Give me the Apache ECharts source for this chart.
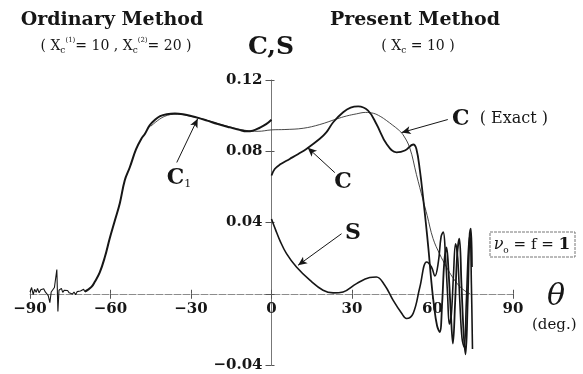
<!DOCTYPE html>
<html>
<head>
<meta charset="utf-8">
<script src="https://cdn.jsdelivr.net/npm/echarts@6/dist/echarts.min.js"></script>
<style>
  html, body { margin: 0; padding: 0; background: #ffffff; }
  #chart { width: 583px; height: 374px; }
</style>
</head>
<body>
<div id="chart"></div>
<script>
// ---- angle ticks (deg.) and value ticks ----
const thetaTicks = [-90, -60, -30, 0, 30, 60, 90];
const valueTicks = [-0.04, 0, 0.04, 0.08, 0.12];

// ---- ordinary method, C1: noisy foot near grazing incidence ----
const c1NoiseTheta = [-90, -89.4, -88.8, -88.3, -87.7, -87.2, -86.6, -86.0, -85.5, -84.9, -84.3, -83.8,
  -83.2, -82.6, -82.1, -81.5, -80.9, -80.4, -80.0, -79.6, -79.2, -78.8, -78.3, -77.8, -77.2, -76.6,
  -76.0, -75.4, -74.8, -74.2, -73.6, -73.0, -72.4, -71.8, -71.2, -70.6, -70.0, -69.6];
const c1NoiseValue = [0.0010, 0.0035, -0.0005, 0.0025, 0.0008, 0.0030, 0.0005, 0.0022, 0.0012, 0.0028,
  0.0010, 0.0015, -0.0010, -0.0050, 0.0010, 0.0020, 0.0035, 0.0025, 0.0136, -0.0100, 0.0020, 0.0018,
  0.0030, 0.0008, 0.0020, 0.0010, 0.0018, 0.0005, 0.0012, -0.0002, 0.0010, -0.0005, 0.0012, 0.0002,
  0.0015, 0.0008, 0.0025, 0.0012];

// ---- ordinary method, C1: main lobe ----
const c1Theta = [-69.6, -68.5, -67, -65.9, -64, -62.1, -60.3, -58.4, -56.5, -54.7, -52.8, -50.5, -48.5,
  -47.2, -45.4, -43.5, -41.5, -39, -36, -33, -30, -27, -24, -20, -15.5, -12, -9.3, -7, -4.4, -2, 0];
const c1Value = [0.0012, 0.0022, 0.0040, 0.0066, 0.0120, 0.0206, 0.0310, 0.0410, 0.0510, 0.0636, 0.0710,
  0.0810, 0.0870, 0.0897, 0.0945, 0.0975, 0.0997, 0.1008, 0.1012, 0.1008, 0.0998, 0.0986, 0.0972, 0.0953,
  0.0934, 0.0920, 0.0912, 0.0915, 0.0932, 0.0952, 0.0977];

// ---- exact C ----
const exactTheta = [-45, -40, -35, -30, -25, -20, -15, -10, -5, 0, 5, 11.8, 18, 24.2, 28, 31.7, 35, 38,
  40.5, 42.9, 45, 47.2, 49, 51.5, 54, 56.5, 58, 60.2, 62.7, 65.2, 67.5, 70.2, 72.5, 74];
const exactValue = [0.0940, 0.0995, 0.1008, 0.0996, 0.0978, 0.0955, 0.0935, 0.0918, 0.0912, 0.0920,
  0.0922, 0.0929, 0.0950, 0.0981, 0.0998, 0.1010, 0.1018, 0.1013, 0.0996, 0.0972, 0.0948, 0.0922, 0.0893,
  0.0820, 0.0670, 0.0525, 0.0440, 0.0310, 0.0222, 0.0150, 0.0092, 0.0040, 0.0012, 0.0000];

// ---- present method, C ----
const cTheta = [0, 1.2, 3.1, 6.8, 10, 13, 18, 20.5, 23, 26.7, 29.5, 32.3, 36, 39.1, 42.9, 46.6, 49.7,
  52.8, 54, 55.3, 56.5, 57.5, 58.5, 59.5, 60.5, 61.7, 62.7, 63.6, 64.4, 65.2, 66.0, 66.8, 67.6, 68.4,
  69.2, 70.0, 70.8, 71.6, 72.3, 73.1, 73.8, 74.3, 74.7];
const cValue = [0.0664, 0.0700, 0.0725, 0.0757, 0.0785, 0.0813, 0.0870, 0.0907, 0.0963, 0.1019, 0.1045,
  0.1052, 0.1028, 0.0953, 0.0841, 0.0794, 0.0804, 0.0838, 0.0813, 0.0692, 0.0540, 0.0400, 0.0250, 0.0080,
  -0.0060, -0.0180, -0.0215, -0.0050, 0.0180, 0.0260, 0.0120, -0.0100, -0.0280, -0.0060, 0.0220, 0.0310,
  0.0050, -0.0220, -0.0340, -0.0050, 0.0320, 0.0365, 0.0150];

// ---- present method, S ----
const sTheta = [0, 1.5, 3.1, 5.6, 9.3, 14.3, 19.2, 23, 26.7, 31.7, 36.6, 39.1, 42.2, 45.3, 48.5, 50.3,
  52.8, 55.3, 57.8, 59.6, 60.9, 62.2, 63.2, 64.0, 64.8, 65.6, 66.3, 67.0, 67.8, 68.6, 69.4, 70.2, 71.0,
  71.8, 72.6, 73.4, 74.0, 74.5, 74.9];
const sValue = [0.0420, 0.0360, 0.0300, 0.0225, 0.0150, 0.0076, 0.0020, 0.0005, 0.0010, 0.0057, 0.0091,
  0.0094, 0.0048, -0.0036, -0.0110, -0.0139, -0.0110, 0.0038, 0.0178, 0.0150, 0.0100, 0.0180, 0.0320,
  0.0346, 0.0220, 0.0000, -0.0170, -0.0120, 0.0100, 0.0280, 0.0200, -0.0050, -0.0250, -0.0300, -0.0050,
  0.0250, 0.0330, 0.0050, -0.0310];

// ---- callout arrows: [tail, head] in (deg., value) ----
const arrowC1 = [[-35.3, 0.0737], [-27.5, 0.0983]];
const arrowC = [[23.6, 0.0680], [13.5, 0.0820]];
const arrowS = [[26.1, 0.0337], [9.9, 0.0160]];
const arrowExact = [[65.7, 0.0978], [48.5, 0.0905]];

const pairs = (xs, ys) => xs.map((x, i) => [x, ys[i]]);

const SERIF = '"DejaVu Serif", "Liberation Serif", serif';
const INK = '#161616';

const minusFmt = (v) => (v < 0 ? '\u2212' : '') + Math.abs(v);
const arrowLine = (seg) => [{ coord: seg[0] }, { coord: seg[1] }];

// plot box
const GRID = { left: 30, top: 80, width: 483, height: 285 };
const xMin = thetaTicks[0], xMax = thetaTicks[thetaTicks.length - 1];
const yMin = valueTicks[0], yMax = valueTicks[valueTicks.length - 1];
// the labelled axes cross at the origin: shift them in from the plot edges
const xAxisShift = -GRID.height * (0 - yMin) / (yMax - yMin);
const yAxisShift = -GRID.width * (0 - xMin) / (xMax - xMin);

const chart = echarts.init(document.getElementById('chart'), null, { renderer: 'canvas' });

const baseX = { type: 'value', min: xMin, max: xMax, interval: 30, splitLine: { show: false } };
const baseY = { type: 'value', min: yMin, max: yMax, interval: 0.04, splitLine: { show: false } };

chart.setOption({
  backgroundColor: '#ffffff',
  animation: false,
  grid: Object.assign({ containLabel: false, outerBoundsMode: 'none' }, GRID),
  xAxis: [
    Object.assign({}, baseX, {
      position: 'bottom', offset: xAxisShift,
      axisLine: { show: true, onZero: false, lineStyle: { color: '#8c8c8c', width: 1, type: [7, 2] } },
      axisTick: { show: true, length: 5, lineStyle: { color: '#555', width: 1 } },
      axisLabel: {
        formatter: minusFmt, fontFamily: SERIF, fontWeight: 'bold', fontSize: 15,
        color: INK, margin: 8
      }
    }),
    Object.assign({}, baseX, {
      position: 'top',
      axisLine: { show: false, onZero: true },
      axisTick: { show: true, length: 4, lineStyle: { color: '#555', width: 1 } },
      axisLabel: { show: false }
    })
  ],
  yAxis: [
    Object.assign({}, baseY, {
      position: 'left', offset: yAxisShift,
      axisLine: { show: true, onZero: false, lineStyle: { color: '#777', width: 1 } },
      axisTick: { show: true, length: 6, lineStyle: { color: '#555', width: 1 } },
      axisLabel: {
        formatter: (v) => (Math.abs(v) < 1e-9 ? '' : (v < 0 ? '\u2212' : '') + Math.abs(v).toFixed(2)),
        fontFamily: SERIF, fontWeight: 'bold', fontSize: 15, color: INK, margin: 9
      }
    }),
    Object.assign({}, baseY, {
      position: 'right',
      axisLine: { show: false, onZero: true },
      axisTick: { show: true, length: 3, lineStyle: { color: '#555', width: 1 } },
      axisLabel: { show: false }
    })
  ],
  series: [
    {
      name: 'C1 foot', type: 'line', data: pairs(c1NoiseTheta, c1NoiseValue),
      showSymbol: false, smooth: false, lineStyle: { color: INK, width: 1.1 }
    },
    {
      name: 'C (Exact)', type: 'line', data: pairs(exactTheta, exactValue),
      showSymbol: false, smooth: 0.4, lineStyle: { color: '#333', width: 0.9 },
      markLine: {
        silent: true, symbol: ['none', 'arrow'], symbolSize: [6, 9],
        lineStyle: { color: INK, width: 1, type: 'solid' }, label: { show: false },
        data: [arrowLine(arrowExact)]
      }
    },
    {
      name: 'C1', type: 'line', data: pairs(c1Theta, c1Value),
      showSymbol: false, smooth: 0.4, lineStyle: { color: INK, width: 2 },
      markLine: {
        silent: true, symbol: ['none', 'arrow'], symbolSize: [6, 9],
        lineStyle: { color: INK, width: 1, type: 'solid' }, label: { show: false },
        data: [arrowLine(arrowC1)]
      }
    },
    {
      name: 'C', type: 'line', data: pairs(cTheta, cValue),
      showSymbol: false, smooth: 0.4, lineStyle: { color: INK, width: 1.8 },
      markLine: {
        silent: true, symbol: ['none', 'arrow'], symbolSize: [6, 9],
        lineStyle: { color: INK, width: 1, type: 'solid' }, label: { show: false },
        data: [arrowLine(arrowC)]
      }
    },
    {
      name: 'S', type: 'line', data: pairs(sTheta, sValue),
      showSymbol: false, smooth: 0.4, lineStyle: { color: INK, width: 1.6 },
      markLine: {
        silent: true, symbol: ['none', 'arrow'], symbolSize: [6, 9],
        lineStyle: { color: INK, width: 1, type: 'solid' }, label: { show: false },
        data: [arrowLine(arrowS)]
      }
    }
  ],
  graphic: [
    { type: 'text', x: 112, y: 20, style: { text: 'Ordinary Method', font: 'bold 19px ' + SERIF, fill: INK, align: 'center', verticalAlign: 'middle' } },
    {
      type: 'text', x: 116, y: 46,
      style: {
        text: '{n|( X}{c|c}{u|(1)}{n|= 10 , X}{c|c}{u|(2)}{n|= 20 )}',
        align: 'center', verticalAlign: 'middle', fill: INK,
        rich: {
          n: { font: '14px ' + SERIF, fill: INK, lineHeight: 18, verticalAlign: 'middle' },
          c: { font: '9px ' + SERIF, fill: INK, lineHeight: 18, verticalAlign: 'bottom' },
          u: { font: '7px ' + SERIF, fill: INK, lineHeight: 18, verticalAlign: 'top' }
        }
      }
    },
    { type: 'text', x: 271, y: 47, style: { text: 'C,S', font: 'bold 25px ' + SERIF, fill: INK, align: 'center', verticalAlign: 'middle' } },
    { type: 'text', x: 415, y: 20, style: { text: 'Present Method', font: 'bold 19px ' + SERIF, fill: INK, align: 'center', verticalAlign: 'middle' } },
    {
      type: 'text', x: 418, y: 46,
      style: {
        text: '{n|( X}{c|c}{n| = 10 )}',
        align: 'center', verticalAlign: 'middle', fill: INK,
        rich: {
          n: { font: '14px ' + SERIF, fill: INK, lineHeight: 18, verticalAlign: 'middle' },
          c: { font: '9px ' + SERIF, fill: INK, lineHeight: 18, verticalAlign: 'bottom' }
        }
      }
    },
    // curve labels
    {
      type: 'text', x: 179, y: 178,
      style: {
        text: '{b|C}{s|1}', align: 'center', verticalAlign: 'middle', fill: INK,
        rich: {
          b: { font: 'bold 22px ' + SERIF, fill: INK, lineHeight: 24, verticalAlign: 'middle' },
          s: { font: '11px ' + SERIF, fill: INK, lineHeight: 24, verticalAlign: 'bottom' }
        }
      }
    },
    { type: 'text', x: 343, y: 182, style: { text: 'C', font: 'bold 22px ' + SERIF, fill: INK, align: 'center', verticalAlign: 'middle' } },
    { type: 'text', x: 353, y: 233, style: { text: 'S', font: 'bold 22px ' + SERIF, fill: INK, align: 'center', verticalAlign: 'middle' } },
    {
      type: 'text', x: 452, y: 119,
      style: {
        text: '{b|C}{n|  ( Exact )}', align: 'left', verticalAlign: 'middle', fill: INK,
        rich: {
          b: { font: 'bold 22px ' + SERIF, fill: INK, lineHeight: 24, verticalAlign: 'middle' },
          n: { font: '16px ' + SERIF, fill: INK, lineHeight: 24, verticalAlign: 'middle' }
        }
      }
    },
    // parameter box
    { type: 'rect', shape: { x: 490, y: 232, width: 85, height: 25 }, style: { fill: 'none', stroke: '#777', lineWidth: 1, lineDash: [3, 1] } },
    {
      type: 'text', x: 532, y: 245,
      style: {
        text: '{g|\u03bd}{o|o}{n| = f = }{b|1}', align: 'center', verticalAlign: 'middle', fill: INK,
        rich: {
          g: { font: 'italic 16px ' + SERIF, fill: INK, lineHeight: 20, verticalAlign: 'middle' },
          o: { font: '9px ' + SERIF, fill: INK, lineHeight: 20, verticalAlign: 'bottom' },
          n: { font: '15px ' + SERIF, fill: INK, lineHeight: 20, verticalAlign: 'middle' },
          b: { font: 'bold 17px ' + SERIF, fill: INK, lineHeight: 20, verticalAlign: 'middle' }
        }
      }
    },
    // axis title
    { type: 'text', x: 556, y: 297, style: { text: '\u03b8', font: 'italic 30px ' + SERIF, fill: INK, align: 'center', verticalAlign: 'middle' } },
    { type: 'text', x: 532, y: 325, style: { text: '(deg.)', font: '15px ' + SERIF, fill: INK, align: 'left', verticalAlign: 'middle' } }
  ]
});
</script>
</body>
</html>
